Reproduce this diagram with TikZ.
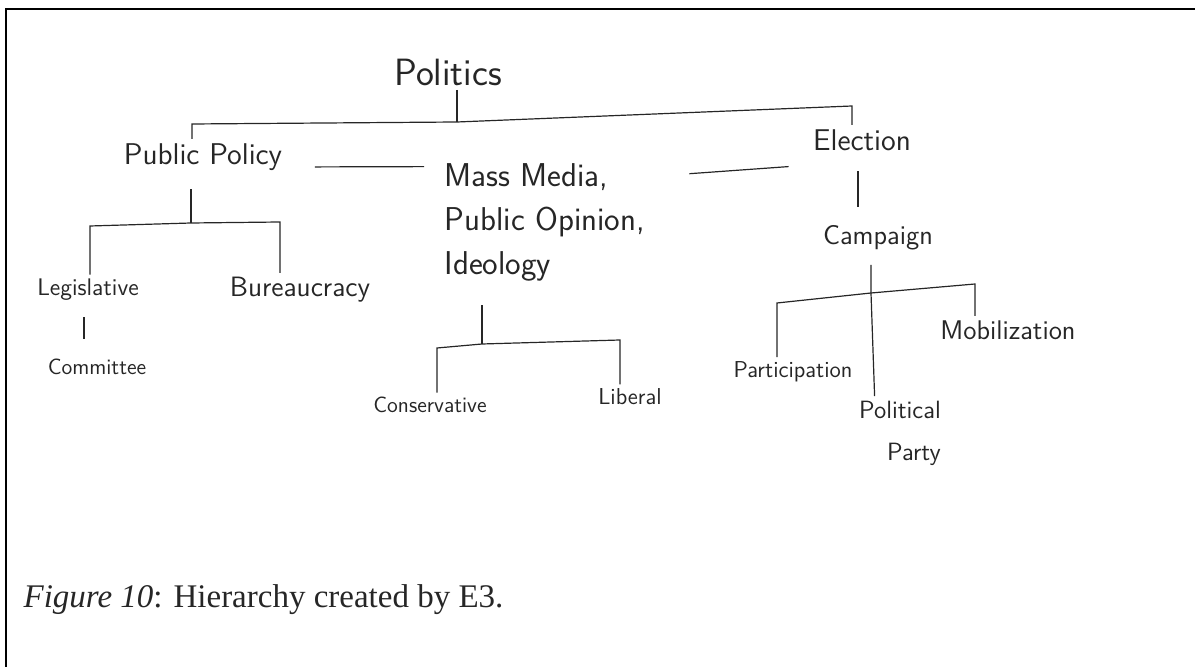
\documentclass[tikz,border=0pt]{standalone}
\usepackage{fontspec}
\newfontfamily\capfont{Liberation Serif}
\usetikzlibrary{positioning, calc}

\begin{document}
\begin{tikzpicture}[
  x=0.5pt, y=-0.5pt,
  every path/.style={line width=0.6pt, black!85},
  hand/.style={inner sep=2pt, font=\sffamily\fontsize{12}{15}\selectfont},
  handL/.style={hand, font=\sffamily\fontsize{15}{22}\selectfont},
  handXL/.style={hand, font=\sffamily\fontsize{19}{23}\selectfont},
]
\useasboundingbox (0,0) rectangle (1195,667);
\draw[line width=1pt, black] (6,667) -- (6,9) -- (1195,9);

% top level
\node[handXL]                    (pol) at (448,72)  {Politics};
\node[handL]                     (pp)  at (203,157) {Public Policy};
\node[handL, anchor=west, align=left, font=\sffamily\fontsize{16.5}{22}\selectfont]
                                 (mm)  at (440,222) {Mass Media,\\Public Opinion,\\Ideology};
\node[handL]                     (el)  at (862,140) {Election};

% second level
\node[hand]                      (leg) at (88,290)  {Legislative};
\node[hand, font=\sffamily\fontsize{14}{17}\selectfont] (bur) at (300,290) {Bureaucracy};
\node[hand, font=\sffamily\fontsize{11}{14}\selectfont] (com) at (97,367)  {Committee};
\node[hand, font=\sffamily\fontsize{11}{14}\selectfont] (con) at (430,405) {Conservative};
\node[hand, font=\sffamily\fontsize{11.5}{14}\selectfont] (lib) at (630,397) {Liberal};
\node[hand, font=\sffamily\fontsize{13.5}{17}\selectfont] (cam) at (878,238) {Campaign};
\node[hand, font=\sffamily\fontsize{11.5}{14}\selectfont] (par) at (793,372) {Participation};
\node[hand, font=\sffamily\fontsize{13.5}{17}\selectfont] (mob) at (1008,330) {Mobilization};
\node[hand, align=right, font=\sffamily\fontsize{12.5}{21}\selectfont] (ptp) at (900,433) {Political\\Party};

% caption
\node[anchor=west, inner sep=0pt, font=\capfont\fontsize{16.5}{20}\selectfont] (cap) at (23,600)
  {\textit{Figure 10}: Hierarchy created by E3.};

% forks
\coordinate (polfork) at (457,122);
\coordinate (ppjoin)  at (192,124);
\coordinate (eljoin)  at (852,106);
\coordinate (ppfork)  at (191,223);
\coordinate (legj)    at (90,226);
\coordinate (burj)    at (280,222);
\coordinate (idfork)  at (482,344);
\coordinate (conj)    at (437,348);
\coordinate (libj)    at (620,340);
\coordinate (camfork) at (871,293);
\coordinate (parj)    at (777,303);
\coordinate (mobj)    at (975,284);

\draw (pol.south -| polfork) -- (polfork);
\draw (pp.north -| ppjoin) -- (ppjoin) -- (polfork) -- (eljoin) -- (el.north -| eljoin);

\draw[shorten <=14pt, shorten >=8pt] ([yshift=-5pt]pp.east) -- ([yshift=-4pt]mm.north west);
\draw[shorten <=20pt, shorten >=10pt] ([yshift=-9pt]mm.north east) -- ([yshift=-5pt]el.south west);

\draw[shorten <=7pt] (pp.south -| ppfork) -- (ppfork);
\draw (leg.north -| legj) -- (legj) -- (ppfork) -- (burj) -- (bur.north -| burj);
\draw[shorten <=6pt, shorten >=8pt] ([xshift=-2pt]leg.south) -- ([xshift=-2pt]leg.south |- com.north);

\draw[shorten <=10pt] (mm.south -| idfork) -- (idfork);
\draw (con.north -| conj) -- (conj) -- (idfork) -- (libj) -- (lib.north -| libj);

\draw[shorten <=8pt, shorten >=7pt] ([xshift=-2pt]el.south) -- ([xshift=-2pt]el.south |- cam.north);
\draw[shorten <=5pt] (cam.south -| camfork) -- (camfork) -- ([xshift=10pt]ptp.north west);
\draw (par.north -| parj) -- (parj) -- (camfork) -- (mobj) -- (mob.north -| mobj);

\end{tikzpicture}
\end{document}
